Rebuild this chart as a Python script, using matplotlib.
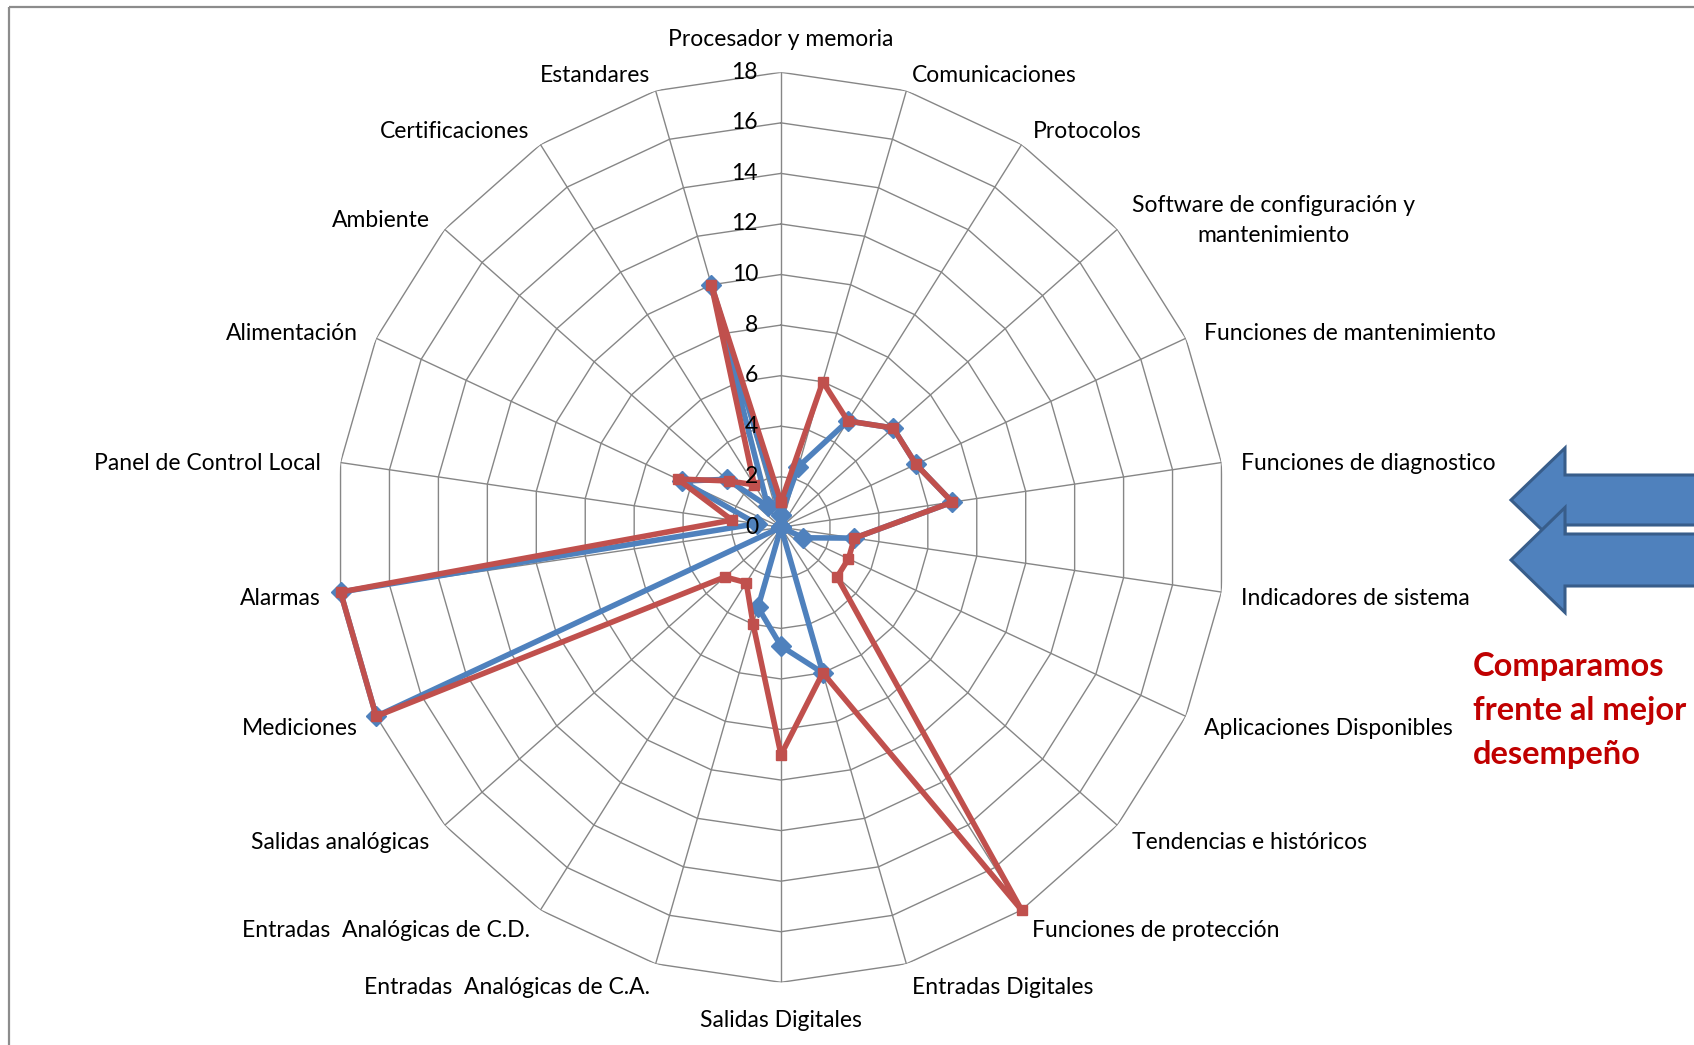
import numpy as np
import matplotlib
matplotlib.use("Agg")
import matplotlib.pyplot as plt
from matplotlib.patches import FancyArrow

plt.rcParams['font.family'] = ['Lato', 'DejaVu Sans']

# ---- data -------------------------------------------------------------
categories = [
    "Procesador y memoria", "Comunicaciones", "Protocolos",
    "Software de configuración y\nmantenimiento", "Funciones de mantenimiento",
    "Funciones de diagnostico", "Indicadores de sistema",
    "Aplicaciones Disponibles", "Tendencias e históricos",
    "Funciones de protección", "Entradas Digitales", "Salidas Digitales",
    "Entradas  Analógicas de C.A.", "Entradas  Analógicas de C.D.",
    "Salidas analógicas", "Mediciones", "Alarmas", "Panel de Control Local",
    "Alimentación", "Ambiente", "Certificaciones", "Estandares",
]
serie_azul = [0.5, 2.5, 5, 6, 6, 7, 3, 1, 0, 0, 6, 4.7, 3.3, 0, 0,
              18, 18, 1, 4.4, 2.9, 1, 10]
serie_roja = [1, 6, 5, 6, 6, 7, 3, 3, 3, 18, 6, 9, 4, 2.6, 3,
              18, 18, 2, 4.6, 2.8, 2, 10]
escala = [0, 2, 4, 6, 8, 10, 12, 14, 16, 18]
mensaje = "Comparamos\nfrente al mejor\ndesempeño"

# ---- figure -----------------------------------------------------------
W, H = 1694, 1045
fig = plt.figure(figsize=(W / 100, H / 100), dpi=100)
fig.patch.set_facecolor("white")

# overlay in pixel coordinates for the frame, arrows and note
ov = fig.add_axes([0, 0, 1, 1])
ov.set_xlim(0, W)
ov.set_ylim(H, 0)
ov.axis("off")
ov.plot([9, 9], [7, H + 5], color="#8c8c8c", lw=1.6, solid_capstyle="butt")
ov.plot([9, W + 5], [7, 7], color="#8c8c8c", lw=1.6, solid_capstyle="butt")

for yc, shaft, head in [(500, 50, 104), (560, 52, 105)]:
    ov.add_patch(FancyArrow(1720, yc, -209, 0, width=shaft, head_width=head,
                            head_length=54, length_includes_head=True,
                            facecolor="#4F81BD", edgecolor="#385D8A",
                            linewidth=2.2, joinstyle="miter"))

ov.text(1473, 652, mensaje, color="#C00000", fontsize=23.5, fontweight="bold",
        ha="left", va="top", linespacing=1.62)

# ---- radar ------------------------------------------------------------
cx, cy, rx, ry = 781, 527.3, 445, 455
ax = fig.add_axes([(cx - rx) / W, (H - cy - ry) / H, 2 * rx / W, 2 * ry / H],
                  projection="polar")
ax.set_aspect("auto")
ax.patch.set_alpha(0)
ax.set_theta_zero_location("N")
ax.set_theta_direction(-1)
ax.set_ylim(0, max(escala))
ax.grid(False)
ax.set_xticks([])
ax.set_yticks([])
ax.spines["polar"].set_visible(False)

n = len(categories)
theta = np.arange(n) * 2 * np.pi / n
theta_c = np.append(theta, theta[0])

grid_col = "#868686"
for r in escala[1:]:
    ax.plot(theta_c, [r] * (n + 1), color=grid_col, lw=1.0, zorder=1)
for t in theta:
    ax.plot([t, t], [0, max(escala)], color=grid_col, lw=1.0, zorder=1)

ax.plot(theta_c, serie_azul + serie_azul[:1], color="#4F81BD", lw=4.0,
        marker="D", ms=10, mec="#4F81BD", zorder=3, clip_on=False)
ax.plot(theta_c, serie_roja + serie_roja[:1], color="#C0504D", lw=4.0,
        marker="s", ms=7, mec="#C0504D", zorder=4, clip_on=False)

fs = 16.5
for v in escala:
    ax.annotate(str(v), xy=(0, v), xytext=(-23, 0), textcoords="offset pixels",
                ha="right", va="center", fontsize=fs, color="black", zorder=5)

for t, lab in zip(theta, categories):
    s, c = np.sin(t), np.cos(t)
    if abs(s) < 0.1:
        if c > 0:
            off = (0, 22)
            ha, va = "center", "bottom"
        else:
            off = (0, -28)
            ha, va = "center", "top"
    else:
        off = (20 * s, 20 * c - 4)
        ha = "left" if s > 0 else "right"
        va = "center"
    ax.annotate(lab, xy=(t, max(escala)), xytext=off,
                textcoords="offset pixels", ha=ha, va=va, fontsize=fs,
                multialignment="center", linespacing=1.55, annotation_clip=False)

fig.savefig("out.png", dpi=100, facecolor="white")
